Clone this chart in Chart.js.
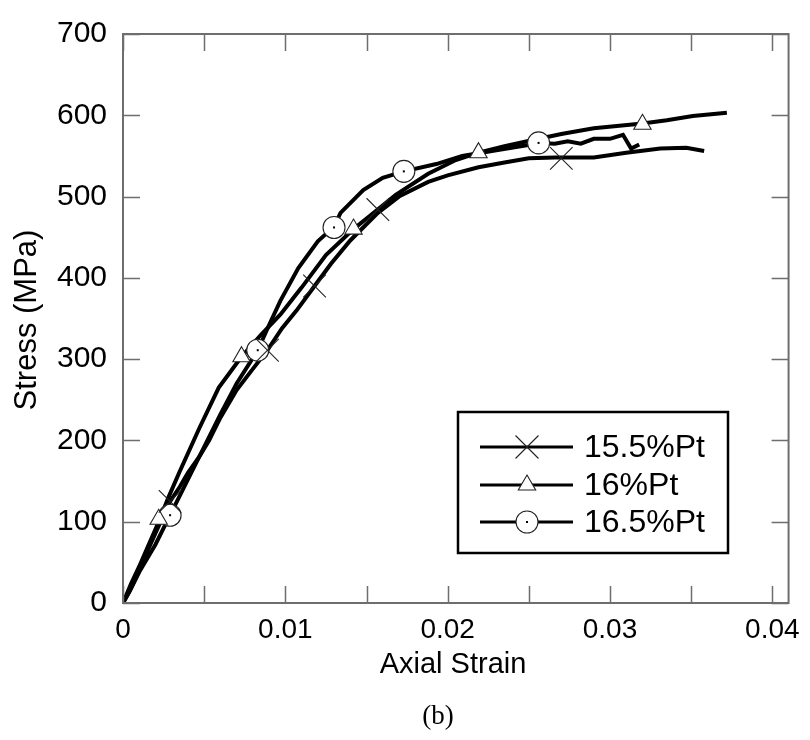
<!DOCTYPE html>
<html>
<head>
<meta charset="utf-8">
<script src="https://cdn.jsdelivr.net/npm/chart.js@4.4.0/dist/chart.umd.min.js"></script>
<style>
  html, body { margin: 0; padding: 0; background: #fff; }
  #wrap { width: 810px; height: 740px; }
</style>
</head>
<body>
<div id="wrap"><canvas id="grafico-tensao"></canvas></div>
<script>
// curvas tensao x deformacao
const strain155 = [0, 0.0004, 0.0008, 0.0012, 0.0016, 0.002, 0.0025, 0.0029, 0.0035, 0.004, 0.0047, 0.0053, 0.006, 0.007, 0.008, 0.0089, 0.0098, 0.0107, 0.0118, 0.0128, 0.014, 0.0157, 0.017, 0.0188, 0.02, 0.0219, 0.0235, 0.025, 0.0266, 0.029, 0.031, 0.0331, 0.0347, 0.0358];
const stress155 = [0, 14, 32, 50, 68, 86, 108, 125, 143, 160, 180, 200, 228, 262, 288, 311, 338, 360, 390, 417, 446, 480, 500, 518, 526, 536, 542, 547, 548, 548, 554, 559, 560, 556];

const strain16 = [0, 0.0005, 0.001, 0.0015, 0.0022, 0.0028, 0.0035, 0.0047, 0.0059, 0.0073, 0.0085, 0.0097, 0.011, 0.0125, 0.0142, 0.0155, 0.0168, 0.0188, 0.0205, 0.0219, 0.0235, 0.0249, 0.027, 0.029, 0.032, 0.0335, 0.0351, 0.0372];
const stress16 = [0, 24, 45, 68, 100, 130, 162, 215, 265, 303, 330, 355, 388, 428, 460, 481, 502, 528, 545, 554, 562, 568, 577, 584, 590, 594, 599, 603];

const strain165 = [0, 0.0005, 0.001, 0.0015, 0.002, 0.0025, 0.0029, 0.0035, 0.004, 0.005, 0.006, 0.007, 0.0083, 0.009, 0.0097, 0.0108, 0.012, 0.013, 0.0134, 0.0148, 0.016, 0.0173, 0.0193, 0.0209, 0.023, 0.0245, 0.0257, 0.0266, 0.0274, 0.0282, 0.029, 0.03, 0.0308, 0.0313, 0.0318];
const stress165 = [0, 18, 38, 55, 72, 92, 108, 132, 152, 192, 232, 270, 311, 342, 372, 412, 445, 463, 480, 508, 523, 531, 540, 550, 557, 562, 566, 565, 568, 565, 571, 571, 576, 559, 564];

// marcadores
const mark155x = [0.0029, 0.0089, 0.0118, 0.0157, 0.027];
const mark155y = [125, 311, 390, 484, 547];
const mark16x = [0.0022, 0.0073, 0.0142, 0.0219, 0.032];
const mark16y = [103, 303, 460, 554, 589];
const mark165x = [0.0029, 0.0083, 0.013, 0.0173, 0.0256];
const mark165y = [108, 311, 462, 531, 566];

const xTicks = [0, 0.005, 0.01, 0.015, 0.02, 0.025, 0.03, 0.035, 0.04];
const yTicks = [0, 100, 200, 300, 400, 500, 600, 700];
const legendLabels = ['15.5%Pt', '16%Pt', '16.5%Pt'];

const corEixo = '#6e6e6e';

function pares(xs, ys) {
  return xs.map((x, i) => ({ x: x, y: ys[i] }));
}

function linha(xs, ys) {
  return {
    data: pares(xs, ys),
    showLine: true,
    borderColor: '#000',
    borderWidth: 4,
    pointRadius: 0,
    tension: 0,
    order: 2,
  };
}

function marcas(xs, ys, estilo, raio) {
  return {
    data: pares(xs, ys),
    showLine: false,
    pointStyle: estilo,
    pointRadius: raio,
    pointBackgroundColor: '#fff',
    pointBorderColor: '#222',
    pointBorderWidth: 1.1,
    order: 1,
  };
}

function desenhaMarcador(ctx, estilo, x, y) {
  ctx.save();
  ctx.strokeStyle = '#222';
  ctx.fillStyle = '#fff';
  ctx.lineWidth = 1.1;
  if (estilo === 'crossRot') {
    ctx.beginPath();
    ctx.moveTo(x - 11.5, y - 11.5); ctx.lineTo(x + 11.5, y + 11.5);
    ctx.moveTo(x + 11.5, y - 11.5); ctx.lineTo(x - 11.5, y + 11.5);
    ctx.stroke();
  } else if (estilo === 'triangle') {
    ctx.beginPath();
    ctx.moveTo(x, y - 10);
    ctx.lineTo(x + 8.7, y + 5);
    ctx.lineTo(x - 8.7, y + 5);
    ctx.closePath();
    ctx.fill(); ctx.stroke();
  } else {
    ctx.beginPath();
    ctx.arc(x, y, 11, 0, Math.PI * 2);
    ctx.fill(); ctx.stroke();
    ctx.fillStyle = '#000';
    ctx.fillRect(x - 1, y - 1, 2, 2);
  }
  ctx.restore();
}

const moldura = {
  id: 'moldura',
  afterDatasetsDraw(chart) {
    const ctx = chart.ctx;
    // ponto central dos circulos
    const meta = chart.getDatasetMeta(5);
    ctx.save();
    ctx.fillStyle = '#000';
    meta.data.forEach((p) => ctx.fillRect(p.x - 1, p.y - 1, 2, 2));
    ctx.restore();
  },
  afterDraw(chart) {
    const ctx = chart.ctx;
    const a = chart.chartArea;
    const sx = chart.scales.x;
    const sy = chart.scales.y;

    ctx.save();
    ctx.strokeStyle = corEixo;
    ctx.lineWidth = 2;
    ctx.strokeRect(a.left, a.top, a.right - a.left, a.bottom - a.top);

    ctx.lineWidth = 1.5;
    ctx.beginPath();
    xTicks.forEach((v) => {
      const px = Math.round(sx.getPixelForValue(v)) + 0.5;
      ctx.moveTo(px, a.bottom); ctx.lineTo(px, a.bottom - 17);
      ctx.moveTo(px, a.top); ctx.lineTo(px, a.top + 17);
    });
    yTicks.forEach((v) => {
      const py = Math.round(sy.getPixelForValue(v)) + 0.5;
      ctx.moveTo(a.left, py); ctx.lineTo(a.left + 17, py);
      ctx.moveTo(a.right, py); ctx.lineTo(a.right - 17, py);
    });
    ctx.stroke();

    // titulos dos eixos
    ctx.fillStyle = '#000';
    ctx.textAlign = 'center';
    ctx.textBaseline = 'middle';
    ctx.font = '29px "Liberation Sans", Arial, sans-serif';
    ctx.fillText('Axial Strain', 453, 665);

    ctx.save();
    ctx.translate(27, 320);
    ctx.rotate(-Math.PI / 2);
    ctx.font = '31px "Liberation Sans", Arial, sans-serif';
    ctx.fillText('Stress (MPa)', 0, 0);
    ctx.restore();

    ctx.font = '27px "Liberation Serif", "Times New Roman", serif';
    ctx.fillText('(b)', 438, 717);

    // legenda
    ctx.strokeStyle = '#000';
    ctx.lineWidth = 2.5;
    ctx.strokeRect(458, 412, 270, 141);
    const estilos = ['crossRot', 'triangle', 'circle'];
    const linhasY = [447, 485, 522];
    ctx.textAlign = 'left';
    ctx.font = '32px "Liberation Sans", Arial, sans-serif';
    legendLabels.forEach((txt, i) => {
      ctx.strokeStyle = '#000';
      ctx.lineWidth = 3;
      ctx.beginPath();
      ctx.moveTo(480, linhasY[i]);
      ctx.lineTo(573, linhasY[i]);
      ctx.stroke();
      desenhaMarcador(ctx, estilos[i], 527, linhasY[i]);
      ctx.fillStyle = '#000';
      ctx.fillText(txt, 584, linhasY[i] + 1);
    });
    ctx.restore();
  },
};

const config = {
  type: 'scatter',
  data: {
    datasets: [
      linha(strain155, stress155),
      linha(strain16, stress16),
      linha(strain165, stress165),
      marcas(mark155x, mark155y, 'crossRot', 16),
      marcas(mark16x, mark16y, 'triangle', 10),
      marcas(mark165x, mark165y, 'circle', 11),
    ],
  },
  options: {
    responsive: true,
    maintainAspectRatio: false,
    animation: false,
    events: [],
    layout: {
      padding: { top: 27, right: 13, left: 0, bottom: 0 },
    },
    plugins: {
      legend: { display: false },
      tooltip: { enabled: false },
    },
    scales: {
      x: {
        type: 'linear',
        min: 0,
        max: 0.041,
        afterBuildTicks: (scale) => {
          scale.ticks = xTicks.map((v) => ({ value: v }));
        },
        afterFit: (scale) => {
          scale.height = 137;
        },
        ticks: {
          autoSkip: false,
          maxRotation: 0,
          padding: 10,
          color: '#000',
          font: { family: '"Liberation Sans", Arial, sans-serif', size: 28 },
          callback: (v) => {
            const r = Math.round(v * 1000) / 1000;
            return Math.abs(r * 100 - Math.round(r * 100)) < 1e-6 ? String(r) : '';
          },
        },
        grid: { display: false, drawTicks: false },
        border: { display: false },
      },
      y: {
        min: 0,
        max: 700,
        afterBuildTicks: (scale) => {
          scale.ticks = yTicks.map((v) => ({ value: v }));
        },
        afterFit: (scale) => {
          scale.width = 123;
        },
        ticks: {
          padding: 16,
          color: '#000',
          font: { family: '"Liberation Sans", Arial, sans-serif', size: 30 },
        },
        grid: { display: false, drawTicks: false },
        border: { display: false },
      },
    },
  },
  plugins: [moldura],
};

new Chart(document.getElementById('grafico-tensao').getContext('2d'), config);
</script>
</body>
</html>
